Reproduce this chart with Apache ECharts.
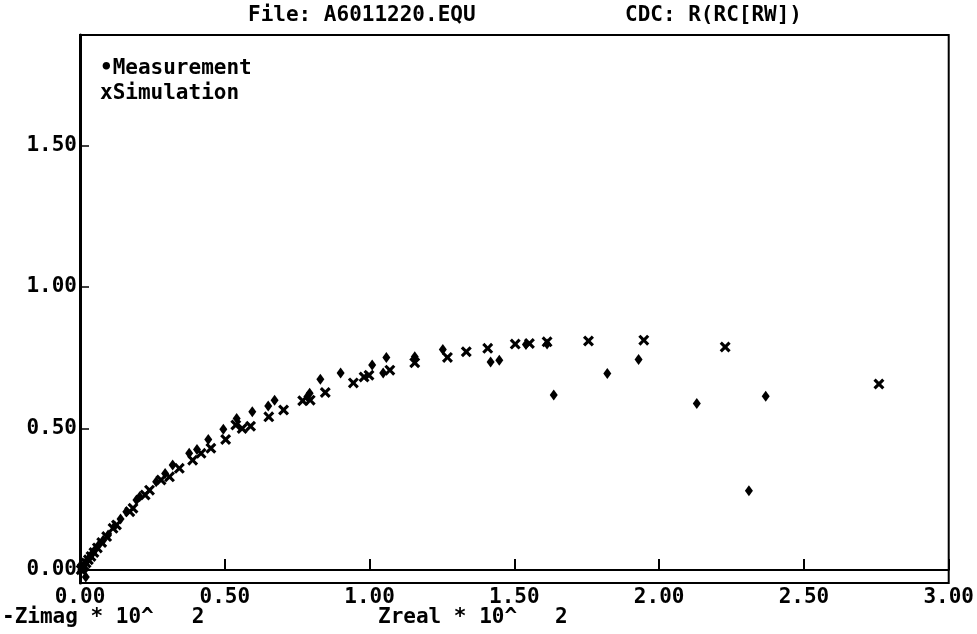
<!DOCTYPE html>
<html>
<head>
<meta charset="utf-8">
<script src="https://cdn.jsdelivr.net/npm/echarts@6/dist/echarts.min.js"></script>
<style>
html,body{margin:0;padding:0;background:#fff;}
#chart{width:977px;height:634px;}
</style>
</head>
<body>
<div id="chart"></div>
<script>
// ---- data (units of 10^2 ohm) ----
var titleLeft = 'File: A6011220.EQU';
var titleRight = 'CDC: R(RC[RW])';
var legendLabels = ['\u2022Measurement', 'xSimulation'];
var xAxisLabel = 'Zreal * 10^   2';
var yAxisLabel = '-Zimag * 10^   2';
var yTickValues = [0, 0.5, 1.0, 1.5];

var measZreal = [2.368, 2.31, 2.130, 1.929, 1.821, 1.636, 1.613, 1.540, 1.448, 1.418, 1.253, 1.156, 1.058, 1.047, 1.009, 0.900, 0.830, 0.793, 0.785, 0.672, 0.650, 0.595, 0.541, 0.495, 0.443, 0.404, 0.377, 0.320, 0.294, 0.263, 0.206, 0.195, 0.160, 0.140, 0.120, 0.097, 0.080, 0.066, 0.054, 0.044, 0.035, 0.027, 0.020, 0.014, 0.009, 0.005, 0.020];
var measZimag = [0.614, 0.28, 0.588, 0.744, 0.694, 0.618, 0.798, 0.797, 0.741, 0.735, 0.779, 0.753, 0.751, 0.696, 0.724, 0.696, 0.674, 0.624, 0.612, 0.600, 0.579, 0.559, 0.535, 0.497, 0.461, 0.426, 0.412, 0.371, 0.341, 0.312, 0.259, 0.247, 0.206, 0.180, 0.155, 0.124, 0.105, 0.090, 0.074, 0.060, 0.047, 0.036, 0.026, 0.017, 0.009, 0.002, -0.025];

var simZreal = [2.759, 2.228, 1.947, 1.756, 1.613, 1.552, 1.503, 1.408, 1.334, 1.269, 1.156, 1.070, 0.998, 0.981, 0.944, 0.847, 0.795, 0.769, 0.703, 0.652, 0.589, 0.560, 0.538, 0.503, 0.452, 0.418, 0.389, 0.343, 0.309, 0.280, 0.240, 0.225, 0.183, 0.172, 0.126, 0.114, 0.092, 0.075, 0.060, 0.048, 0.038, 0.029, 0.021, 0.014, 0.008, 0.004];
var simZimag = [0.657, 0.788, 0.812, 0.809, 0.806, 0.800, 0.798, 0.783, 0.771, 0.751, 0.732, 0.706, 0.688, 0.682, 0.661, 0.627, 0.600, 0.598, 0.565, 0.541, 0.508, 0.500, 0.512, 0.461, 0.430, 0.412, 0.388, 0.359, 0.329, 0.318, 0.282, 0.265, 0.218, 0.206, 0.159, 0.147, 0.118, 0.097, 0.078, 0.062, 0.048, 0.036, 0.025, 0.015, 0.007, 0.001];

function pairs(xs, ys) {
  var out = [];
  for (var i = 0; i < xs.length; i++) out.push([xs[i], ys[i]]);
  return out;
}

var FONT = '"DejaVu Sans Mono", "Liberation Mono", monospace';
var TXT = 'bold 21px ' + FONT;
var chart = echarts.init(document.getElementById('chart'), null, {renderer: 'canvas'});
var xMark = 'path://M0,2 L2,0 L5,3 L8,0 L10,2 L7,5 L10,8 L8,10 L5,7 L2,10 L0,8 L3,5 Z';

chart.setOption({
  animation: false,
  backgroundColor: '#fff',
  grid: {left: 80, right: 24, top: 35, bottom: 51, show: true, borderColor: '#000', borderWidth: 2, backgroundColor: 'transparent'},
  xAxis: {
    type: 'value', min: 0, max: 3, interval: 0.5,
    axisLine: {show: true, lineStyle: {color: '#000', width: 2}},
    axisTick: {show: true, inside: true, length: 11, lineStyle: {color: '#000', width: 2}},
    axisLabel: {color: '#000', fontFamily: FONT, fontWeight: 'bold', fontSize: 21, margin: 4,
      formatter: function (v) { return v.toFixed(2); }},
    splitLine: {show: false}
  },
  yAxis: {
    type: 'value', min: -0.046, max: 1.89,
    axisLine: {show: true, lineStyle: {color: '#000', width: 3}},
    axisTick: {show: true, inside: true, length: 9, customValues: yTickValues, lineStyle: {color: '#000', width: 1.5}},
    axisLabel: {color: '#000', fontFamily: FONT, fontWeight: 'bold', fontSize: 21, margin: 3, customValues: yTickValues,
      formatter: function (v) { return v.toFixed(2); }},
    splitLine: {show: false}
  },
  series: [
    {
      name: 'Measurement', type: 'scatter', data: pairs(measZreal, measZimag),
      symbol: 'diamond', symbolSize: [8, 11], itemStyle: {color: '#000', opacity: 1},
      markLine: {silent: true, symbol: 'none', label: {show: false},
        lineStyle: {color: '#000', width: 2, type: 'solid'}, data: [{yAxis: 0}]}
    },
    {
      name: 'Simulation', type: 'scatter', data: pairs(simZreal, simZimag),
      symbol: xMark, symbolSize: [11, 11], itemStyle: {color: '#000', opacity: 1}
    }
  ],
  graphic: [
    {type: 'text', left: 248, top: 5, style: {text: titleLeft, font: TXT, fill: '#000'}},
    {type: 'text', left: 625, top: 5, style: {text: titleRight, font: TXT, fill: '#000'}},
    {type: 'text', left: 100, top: 58, style: {text: legendLabels[0], font: TXT, fill: '#000'}},
    {type: 'text', left: 100, top: 83, style: {text: legendLabels[1], font: TXT, fill: '#000'}},
    {type: 'text', left: 2, top: 607, style: {text: yAxisLabel, font: TXT, fill: '#000'}},
    {type: 'text', left: 378, top: 607, style: {text: xAxisLabel, font: TXT, fill: '#000'}}
  ]
});
</script>
</body>
</html>
